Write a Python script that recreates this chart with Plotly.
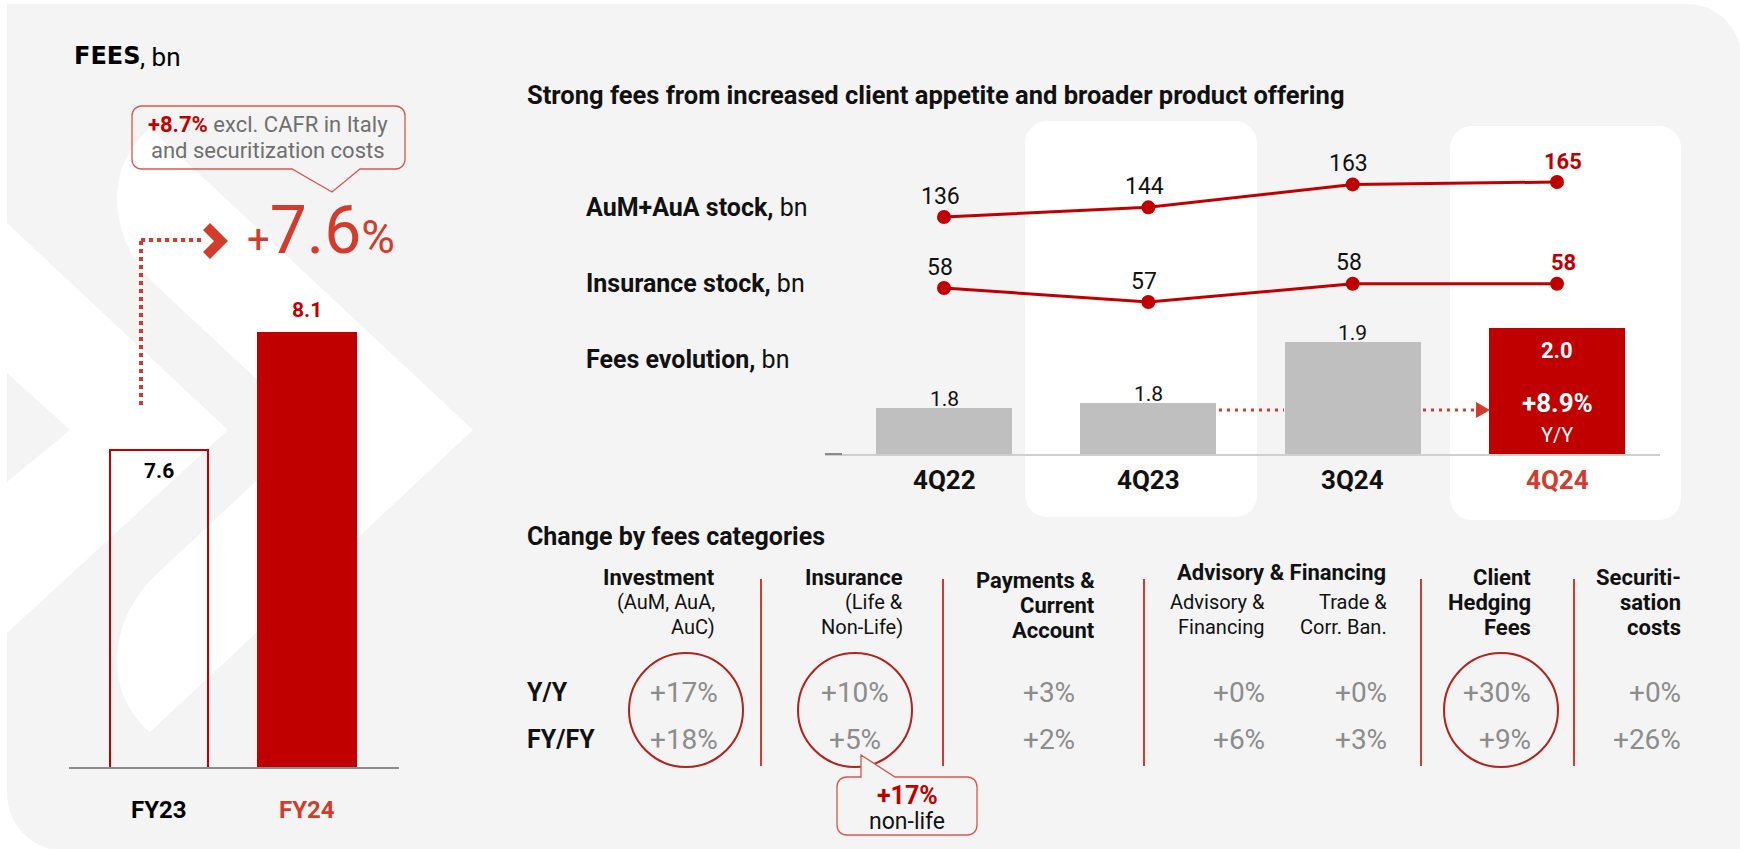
import plotly.graph_objects as go

# ---------------- data ----------------
fy_years = ["FY23", "FY24"]
fy_fees = [7.56, 8.13]
fy_growth_label = "+7.6%"
fy_note_value = "+8.7%"

quarters = ["4Q22", "4Q23", "3Q24", "4Q24"]
aum_aua = [136, 144, 163, 165]
insurance_stock = [58.0, 57.0, 58.3, 58.3]
fees_q = [1.79, 1.80, 1.93, 1.96]
fees_yoy_label = "+8.9%"

categories = ["Investment", "Insurance", "Payments & Current Account",
              "Advisory & Financing", "Trade & Corr. Ban.",
              "Client Hedging Fees", "Securitisation costs"]
yy_change = [17, 10, 3, 0, 0, 30, 0]
fyfy_change = [18, 5, 2, 6, 3, 9, 26]
nonlife_change = "+17%"

# ---------------- helpers ----------------
W, H = 1740, 849
FONT = "Roboto"
RED = "#c00000"
RED2 = "#d23c2d"
GREY_TXT = "#8c8c8c"
BG = "#f4f4f4"


def PX(x):
    return x / W


def PY(y):
    return 1 - y / H


def path_from(cmds):
    parts = []
    for c, pts in cmds:
        if c == "Z":
            parts.append("Z")
            continue
        coords = []
        for i in range(0, len(pts), 2):
            coords.append(f"{PX(pts[i]):.6f},{PY(pts[i + 1]):.6f}")
        parts.append(c + " " + " ".join(coords))
    return " ".join(parts)


def rrect(x0, y0, x1, y1, r):
    tl, tr, br, bl = r if isinstance(r, (list, tuple)) else (r, r, r, r)
    k = 0.5523
    cmds = [("M", [x0 + tl, y0]), ("L", [x1 - tr, y0]),
            ("C", [x1 - tr + k * tr, y0, x1, y0 + tr - k * tr, x1, y0 + tr]),
            ("L", [x1, y1 - br]),
            ("C", [x1, y1 - br + k * br, x1 - br + k * br, y1, x1 - br, y1]),
            ("L", [x0 + bl, y1]),
            ("C", [x0 + bl - k * bl, y1, x0, y1 - bl + k * bl, x0, y1 - bl]),
            ("L", [x0, y0 + tl]),
            ("C", [x0, y0 + tl - k * tl, x0 + tl - k * tl, y0, x0 + tl, y0]),
            ("Z", [])]
    return path_from(cmds)


def poly(pts):
    cmds = [("M", list(pts[0]))] + [("L", list(p)) for p in pts[1:]] + [("Z", [])]
    return path_from(cmds)


shapes = []
annotations = []


def shp_path(path, fill=None, line_color=None, line_width=0, layer="below", dash=None):
    d = dict(type="path", path=path, xref="paper", yref="paper", layer=layer,
             fillcolor=fill if fill else "rgba(0,0,0,0)",
             line=dict(color=line_color if line_color else "rgba(0,0,0,0)", width=line_width))
    if dash:
        d["line"]["dash"] = dash
    shapes.append(d)


def shp_line(x0, y0, x1, y1, color, width, dash=None, layer="above"):
    d = dict(type="line", xref="paper", yref="paper", x0=PX(x0), y0=PY(y0), x1=PX(x1), y1=PY(y1),
             line=dict(color=color, width=width), layer=layer)
    if dash:
        d["line"]["dash"] = dash
    shapes.append(d)


def txt(x, y, s, size, color="#111111", xanchor="left", yanchor="middle", family=FONT):
    annotations.append(dict(x=PX(x), y=PY(y), xref="paper", yref="paper", text=s,
                            showarrow=False, xanchor=xanchor, yanchor=yanchor,
                            font=dict(size=size, color=color, family=family)))


# ---------------- background ----------------
shp_path(rrect(7, 4, 1741, 851, (0, 54, 0, 58)), fill=BG)
# decorative chevrons
shp_path(poly([(7, 223), (228, 430), (7, 633)]), fill="#ffffff")
shp_path(poly([(7, 373), (70, 430), (7, 482)]), fill=BG)
shp_path(path_from([("M", [150, 128]), ("L", [473, 430]), ("L", [150, 732]),
                    ("C", [100, 690, 110, 615, 160, 571]), ("L", [311, 430]), ("L", [160, 289]),
                    ("C", [110, 245, 100, 170, 150, 128]), ("Z", [])]), fill="#ffffff")
# white column panels
shp_path(rrect(1025, 121, 1257, 517, 22), fill="#ffffff")
shp_path(rrect(1450, 126, 1681, 520, 22), fill="#ffffff")

# ---------------- left panel ----------------
txt(72, 56, "<b>FEES</b>", 24, "#000000", family="DejaVu Sans")
txt(138, 57, ", bn", 26, "#000000")

# callout box with pointer
shp_path(path_from([("M", [142, 106]), ("L", [395, 106]), ("C", [401, 106, 405, 110, 405, 116]),
                    ("L", [405, 159]), ("C", [405, 165, 401, 169, 395, 169]), ("L", [360, 169]),
                    ("L", [332, 192]), ("L", [292, 169]), ("L", [142, 169]),
                    ("C", [136, 169, 132, 165, 132, 159]), ("L", [132, 116]),
                    ("C", [132, 110, 136, 106, 142, 106]), ("Z", [])]),
         line_color="#d9574d", line_width=1.3, layer="above")
txt(268, 124, f"<b><span style='color:{RED}'>{fy_note_value}</span></b> excl. CAFR in Italy", 22,
    "#6f6f6f", xanchor="center")
txt(268, 151, "and securitization costs", 22, "#6f6f6f", xanchor="center")

# big growth figure
pct = fy_growth_label
txt(245, 231, f"<span style='font-size:40px'>{pct[0]}</span>{pct[1:-1]}"
              f"<span style='font-size:46px'>{pct[-1]}</span>", 66, RED2)

# dotted connector + chevron
shp_line(141, 405, 141, 240, RED2, 4, dash="4px,4px")
shp_line(141, 240, 204, 240, RED2, 4, dash="4px,4px")
shp_path(poly([(203, 230), (210, 223), (228, 241), (210, 259), (203, 252), (214, 241)]),
         fill=RED2, layer="above")

# ---------------- middle: arrows ----------------
shp_line(1219, 410, 1284, 410, RED2, 3, dash="3px,5px")
shp_line(1423, 410, 1476, 410, RED2, 3, dash="3px,5px")
shp_path(poly([(1476, 402), (1476, 418), (1490, 410)]), fill=RED2, layer="above")
shp_line(825, 454, 842, 454, "#8a8a8a", 2)

# texts middle
txt(525, 95, "<b>Strong fees from increased client appetite and broader product offering</b>", 25.5,
    "#111111")
txt(584, 208, "<b>AuM+AuA stock,</b> bn", 25, "#111111")
txt(584, 284, "<b>Insurance stock,</b> bn", 25, "#111111")
txt(584, 359, "<b>Fees evolution,</b> bn", 25, "#111111")

# ---------------- bottom table ----------------
txt(525, 536, "<b>Change by fees categories</b>", 25, "#111111")

headers = [
    (717, [(577, "<b>Investment</b>"), (602, "(AuM, AuA,"), (627, "AuC)")]),
    (905, [(577, "<b>Insurance</b>"), (602, "(Life &"), (627, "Non-Life)")]),
    (1097, [(580, "<b>Payments &</b>"), (605, "<b>Current</b>"), (630, "<b>Account</b>")]),
    (1267, [(602, "Advisory &"), (627, "Financing")]),
    (1389, [(602, "Trade &"), (627, "Corr. Ban.")]),
    (1533, [(577, "<b>Client</b>"), (602, "<b>Hedging</b>"), (627, "<b>Fees</b>")]),
    (1683, [(577, "<b>Securiti-</b>"), (602, "<b>sation</b>"), (627, "<b>costs</b>")]),
]
for xr, lines in headers:
    for yy, s in lines:
        txt(xr, yy, s, 22 if s.startswith("<b>") else 20, "#111111", xanchor="right")
txt(1281, 572, "<b>Advisory & Financing</b>", 22, "#111111", xanchor="center")

txt(525, 692, "<b>Y/Y</b>", 25, "#111111")
txt(525, 739, "<b>FY/FY</b>", 25, "#111111")

value_pos = [(684, "center"), (855, "center"), (1049, "center"), (1267, "right"),
             (1389, "right"), (1533, "right"), (1683, "right")]
for (xv, anc), a, b in zip(value_pos, yy_change, fyfy_change):
    txt(xv, 692, f"+{a}%", 28, GREY_TXT, xanchor=anc)
    txt(xv, 739, f"+{b}%", 28, GREY_TXT, xanchor=anc)

for xs in [761, 943, 1144, 1421, 1574]:
    shp_line(xs, 579, xs, 766, RED2, 2)

for cx in [686, 855, 1501]:
    shapes.append(dict(type="circle", xref="paper", yref="paper", layer="above",
                       x0=PX(cx - 57), x1=PX(cx + 57), y0=PY(767), y1=PY(653),
                       line=dict(color="#b3221b", width=2)))

# non-life callout
shp_path(path_from([("M", [847, 777]), ("L", [861, 777]), ("L", [861, 755]), ("L", [895, 777]),
                    ("L", [967, 777]), ("C", [973, 777, 977, 781, 977, 787]), ("L", [977, 825]),
                    ("C", [977, 831, 973, 835, 967, 835]), ("L", [847, 835]),
                    ("C", [841, 835, 837, 831, 837, 825]), ("L", [837, 787]),
                    ("C", [837, 781, 841, 777, 847, 777]), ("Z", [])]),
         fill=BG, line_color="#d9574d", line_width=1.3, layer="above")
txt(907, 795, f"<b>{nonlife_change}</b>", 25, RED, xanchor="center")
txt(907, 821, "non-life", 23, "#111111", xanchor="center")

# ---------------- traces ----------------
fig = go.Figure()

# left FY bars
fig.add_trace(go.Bar(
    x=fy_years, y=fy_fees, width=0.668, xaxis="x", yaxis="y",
    marker=dict(color=["rgba(0,0,0,0)", RED], line=dict(color=[RED, RED], width=2)),
    hoverinfo="skip"))
for i, (cat, v) in enumerate(zip(fy_years, fy_fees)):
    annotations.append(dict(x=cat, y=v, xref="x", yref="y", text=f"<b>{v:.1f}</b>",
                            showarrow=False, yanchor="middle",
                            yshift=(-21 if i == 0 else 23),
                            font=dict(size=21, color=("#000000" if i == 0 else RED), family=FONT)))
    annotations.append(dict(x=cat, y=PY(810), xref="x", yref="paper",
                            text=f"<b>{cat}</b>", showarrow=False, yanchor="middle",
                            font=dict(size=24, color=("#000000" if i == 0 else RED2), family=FONT)))

# middle fees bars
fig.add_trace(go.Bar(
    x=quarters, y=fees_q, width=0.666, xaxis="x2", yaxis="y2",
    marker=dict(color=["#bfbfbf"] * 3 + [RED], line=dict(width=0)), hoverinfo="skip"))
for i, (q, v) in enumerate(zip(quarters, fees_q)):
    if i < 3:
        annotations.append(dict(x=q, y=v, xref="x2", yref="y2", text=f"{v:.1f}", showarrow=False,
                                yanchor="middle", yshift=9,
                                font=dict(size=21, color="#111111", family=FONT)))
    else:
        annotations.append(dict(x=q, y=v, xref="x2", yref="y2", text=f"<b>{v:.1f}</b>",
                                showarrow=False, yanchor="middle", yshift=-23,
                                font=dict(size=22, color="#ffffff", family=FONT)))
        annotations.append(dict(x=q, y=v, xref="x2", yref="y2", text=f"<b>{fees_yoy_label}</b>",
                                showarrow=False, yanchor="middle", yshift=-75,
                                font=dict(size=26, color="#ffffff", family=FONT)))
        annotations.append(dict(x=q, y=v, xref="x2", yref="y2", text="Y/Y",
                                showarrow=False, yanchor="middle", yshift=-107,
                                font=dict(size=20, color="#ffffff", family=FONT)))
    annotations.append(dict(x=q, y=PY(480), xref="x2", yref="paper", text=f"<b>{q}</b>",
                            showarrow=False, yanchor="middle",
                            font=dict(size=26, color=(RED2 if i == 3 else "#111111"), family=FONT)))

# lines
for series, yax in [(aum_aua, "y3"), (insurance_stock, "y4")]:
    fig.add_trace(go.Scatter(
        x=quarters, y=series, xaxis="x2", yaxis=yax, mode="lines+markers",
        line=dict(color=RED, width=3), marker=dict(size=14, color=RED),
        hoverinfo="skip", cliponaxis=False))
    for i, (q, v) in enumerate(zip(quarters, series)):
        last = i == len(series) - 1
        annotations.append(dict(x=q, y=v, xref="x2", yref=yax,
                                text=(f"<b>{v:.0f}</b>" if last else f"{v:.0f}"),
                                showarrow=False, yanchor="middle", yshift=21,
                                xshift=(6 if last else -4),
                                font=dict(size=(22 if last else 23),
                                          color=(RED if last else "#111111"), family=FONT)))


def dom_y(top_px, bot_px):
    return [1 - bot_px / H, 1 - top_px / H]


# scale geometry (pixel layout of the reference)
left_v0, left_k = 6.016, 205.3           # value at baseline, px per unit
bar_v0, bar_k = 1.691, 469.0
aum_ref, aum_k = (136, 217), 1.207
ins_ref, ins_k = (57, 302), 14.0

fig.update_layout(
    width=W, height=H, margin=dict(l=0, r=0, t=0, b=0),
    paper_bgcolor="#ffffff", plot_bgcolor="rgba(0,0,0,0)",
    showlegend=False, bargap=0,
    font=dict(family=FONT, color="#111111"),
    xaxis=dict(domain=[PX(69), PX(399)], range=[-0.608, 1.622], anchor="y",
               showline=True, linecolor="#8c8c8c", linewidth=2, showgrid=False,
               zeroline=False, showticklabels=False, ticks="", fixedrange=True),
    yaxis=dict(domain=dom_y(280, 767), range=[left_v0, left_v0 + (767 - 280) / left_k],
               visible=False, fixedrange=True),
    xaxis2=dict(domain=[PX(825), PX(1660)], range=[-0.5825, 3.504], anchor="y2",
                showline=True, linecolor="#cfcfcf", linewidth=2, showgrid=False,
                zeroline=False, showticklabels=False, ticks="", fixedrange=True),
    yaxis2=dict(domain=dom_y(300, 454), range=[bar_v0, bar_v0 + (454 - 300) / bar_k],
                anchor="x2", visible=False, fixedrange=True),
    yaxis3=dict(domain=dom_y(150, 240),
                range=[aum_ref[0] - (240 - aum_ref[1]) / aum_k, aum_ref[0] + (aum_ref[1] - 150) / aum_k],
                anchor="x2", visible=False, fixedrange=True),
    yaxis4=dict(domain=dom_y(255, 320),
                range=[ins_ref[0] - (320 - ins_ref[1]) / ins_k, ins_ref[0] + (ins_ref[1] - 255) / ins_k],
                anchor="x2", visible=False, fixedrange=True),
    shapes=shapes, annotations=annotations,
)

fig.write_html("out.html", config={"displayModeBar": False},
               post_script="document.body.style.margin='0px';document.body.style.overflow='hidden';")
